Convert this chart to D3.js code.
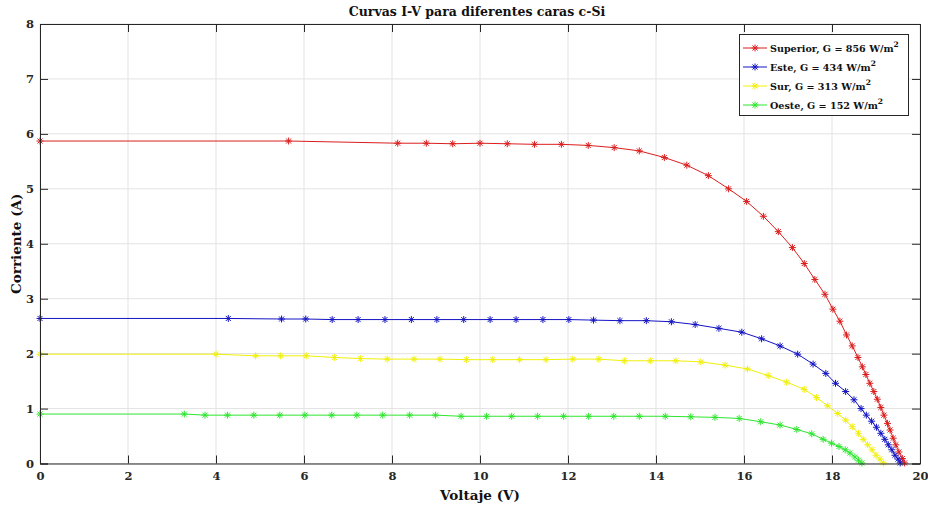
<!DOCTYPE html>
<html><head><meta charset="utf-8">
<script src="https://cdn.jsdelivr.net/npm/d3@7"></script>
<style>
html,body{margin:0;padding:0;background:#fff;}
text{font-family:"DejaVu Serif","Liberation Serif",serif;font-weight:bold;}
</style></head>
<body><svg id="chart" width="928" height="508"></svg>
<script>
const title = "Curvas I-V para diferentes caras c-Si";
const xLabel = "Voltaje (V)";
const yLabel = "Corriente (A)";
const xTicks = [0,2,4,6,8,10,12,14,16,18,20];
const yTicks = [0,1,2,3,4,5,6,7,8];

const seriesNames = ["Superior, G = 856 W/m", "Este, G = 434 W/m", "Sur, G = 313 W/m", "Oeste, G = 152 W/m"];
const seriesColors = ["#dc1e1e", "#1414c4", "#f0f00a", "#2ee62e"];

const supV = [0,5.65,8.13,8.78,9.38,10.0,10.62,11.24,11.85,12.46,13.05,13.62,14.19,14.70,15.19,15.65,16.06,16.44,16.78,17.10,17.37,17.61,17.84,18.02,18.18,18.33,18.46,18.59,18.69,18.77,18.86,18.95,19.03,19.11,19.18,19.26,19.32,19.39,19.45,19.52,19.60,19.65];
const supI = [5.87,5.87,5.83,5.83,5.82,5.83,5.82,5.81,5.81,5.79,5.75,5.69,5.57,5.43,5.24,5.00,4.77,4.50,4.22,3.93,3.64,3.35,3.08,2.81,2.59,2.34,2.14,1.93,1.76,1.62,1.46,1.31,1.17,1.02,0.88,0.73,0.61,0.46,0.34,0.21,0.09,0.01];

const esteV = [0,4.28,5.49,6.04,6.64,7.23,7.84,8.44,9.02,9.63,10.23,10.82,11.43,12.02,12.58,13.18,13.78,14.35,14.89,15.43,15.95,16.40,16.82,17.22,17.57,17.86,18.08,18.31,18.50,18.66,18.78,18.90,19.01,19.11,19.20,19.28,19.36,19.43,19.50,19.55];
const esteI = [2.64,2.64,2.63,2.63,2.62,2.62,2.62,2.62,2.62,2.62,2.62,2.62,2.62,2.62,2.61,2.60,2.60,2.58,2.53,2.46,2.39,2.27,2.14,1.99,1.81,1.64,1.46,1.31,1.16,1.00,0.88,0.77,0.66,0.55,0.44,0.34,0.25,0.15,0.08,0.01];

const surV = [0,4.0,4.90,5.47,6.05,6.69,7.28,7.89,8.50,9.09,9.69,10.29,10.90,11.50,12.11,12.70,13.28,13.87,14.45,15.02,15.57,16.08,16.55,16.97,17.37,17.65,17.90,18.13,18.31,18.46,18.60,18.71,18.81,18.91,19.00,19.09,19.17];
const surI = [1.99,1.99,1.96,1.96,1.96,1.93,1.91,1.90,1.90,1.90,1.89,1.89,1.89,1.89,1.90,1.90,1.87,1.87,1.87,1.85,1.79,1.72,1.60,1.48,1.35,1.20,1.05,0.91,0.79,0.67,0.55,0.44,0.34,0.25,0.15,0.08,0.01];

const oesteV = [0,3.28,3.75,4.26,4.86,5.45,6.02,6.63,7.20,7.79,8.40,8.99,9.57,10.15,10.72,11.31,11.90,12.47,13.04,13.62,14.21,14.79,15.34,15.89,16.38,16.82,17.20,17.54,17.80,17.99,18.16,18.30,18.41,18.52,18.60,18.68];
const oesteI = [0.90,0.90,0.88,0.88,0.88,0.88,0.88,0.88,0.88,0.88,0.88,0.88,0.86,0.86,0.86,0.86,0.86,0.86,0.86,0.86,0.86,0.85,0.84,0.82,0.76,0.70,0.62,0.54,0.44,0.37,0.31,0.25,0.19,0.12,0.06,0.01];

const seriesV = [supV, esteV, surV, oesteV];
const seriesI = [supI, esteI, surI, oesteI];

const svg = d3.select("#chart");
const W = 928, H = 508;
const m = {left:40, right:W-920, top:24, bottom:H-463.5};
const x = d3.scaleLinear().domain([0,20]).range([m.left, W-m.right]);
const y = d3.scaleLinear().domain([0,8]).range([H-m.bottom, m.top]);

// grid
const g = svg.append("g");
g.selectAll(".gx").data(xTicks).join("line")
  .attr("x1", d=>x(d)).attr("x2", d=>x(d)).attr("y1", y(0)).attr("y2", y(8))
  .attr("stroke", "#e3e3e3").attr("stroke-width", 1);
g.selectAll(".gy").data(yTicks).join("line")
  .attr("y1", d=>y(d)).attr("y2", d=>y(d)).attr("x1", x(0)).attr("x2", x(20))
  .attr("stroke", "#e3e3e3").attr("stroke-width", 1);

// series
const line = d3.line().x(d=>x(d[0])).y(d=>y(d[1]));
function star(cx, cy, r){
  const a = r*0.72;
  return `M${cx-r},${cy}L${cx+r},${cy}M${cx},${cy-r}L${cx},${cy+r}M${cx-a},${cy-a}L${cx+a},${cy+a}M${cx-a},${cy+a}L${cx+a},${cy-a}`;
}
seriesV.forEach((vs, k) => {
  const pts = vs.map((v,i)=>[v, seriesI[k][i]]);
  svg.append("path").datum(pts).attr("d", line).attr("fill","none")
    .attr("stroke", seriesColors[k]).attr("stroke-width", 1);
  svg.append("g").selectAll("path").data(pts).join("path")
    .attr("d", d=>star(x(d[0]), y(d[1]), 3.5))
    .attr("stroke", seriesColors[k]).attr("stroke-width", 1).attr("fill","none");
});

// axes box and ticks
const axisColor = "#262626";
const fontSize = 11.5;
const xb = svg.append("g").attr("transform", `translate(0,${y(0)})`)
  .call(d3.axisBottom(x).tickValues(xTicks).tickSize(-8).tickPadding(8).tickFormat(d3.format("d")));
const xt = svg.append("g").attr("transform", `translate(0,${y(8)})`)
  .call(d3.axisTop(x).tickValues(xTicks).tickSize(-8).tickFormat(""));
const yl = svg.append("g").attr("transform", `translate(${x(0)},0)`)
  .call(d3.axisLeft(y).tickValues(yTicks).tickSize(-8).tickPadding(6).tickFormat(d3.format("d")));
const yr = svg.append("g").attr("transform", `translate(${x(20)},0)`)
  .call(d3.axisRight(y).tickValues(yTicks).tickSize(-8).tickFormat(""));
[xb,xt,yl,yr].forEach(a=>{
  a.select(".domain").attr("stroke", axisColor);
  a.selectAll(".tick line").attr("stroke", axisColor);
  a.selectAll("text").attr("fill", "#262626").attr("font-size", fontSize)
    .attr("font-family", "DejaVu Serif").attr("font-weight","bold");
});

svg.append("text").attr("x", 477).attr("y", 16).attr("text-anchor","middle")
  .attr("font-size", 12.5).attr("fill","#111").text(title);
svg.append("text").attr("x", 480).attr("y", 500).attr("text-anchor","middle")
  .attr("font-size", 13.5).attr("fill","#111").text(xLabel);
svg.append("text").attr("transform", `translate(21,${(y(0)+y(8))/2}) rotate(-90)`).attr("text-anchor","middle")
  .attr("font-size", 13.5).attr("fill","#111").text(yLabel);

// legend
const lg = svg.append("g");
lg.append("rect").attr("x", 739.5).attr("y", 34.5).attr("width", 169).attr("height", 81)
  .attr("fill","#fff").attr("stroke","#262626").attr("stroke-width",1);
seriesNames.forEach((name,k)=>{
  const ly = 48 + k*19;
  lg.append("line").attr("x1",743).attr("x2",767).attr("y1",ly).attr("y2",ly)
    .attr("stroke", seriesColors[k]).attr("stroke-width",1);
  lg.append("path").attr("d", star(755, ly, 3.5)).attr("stroke", seriesColors[k]).attr("fill","none");
  const t = lg.append("text").attr("x",770).attr("y",ly+4).attr("font-size",9.6).attr("fill","#111");
  t.append("tspan").text(name);
  t.append("tspan").attr("dy",-5).attr("font-size",7.5).text("2");
});
</script></body></html>
